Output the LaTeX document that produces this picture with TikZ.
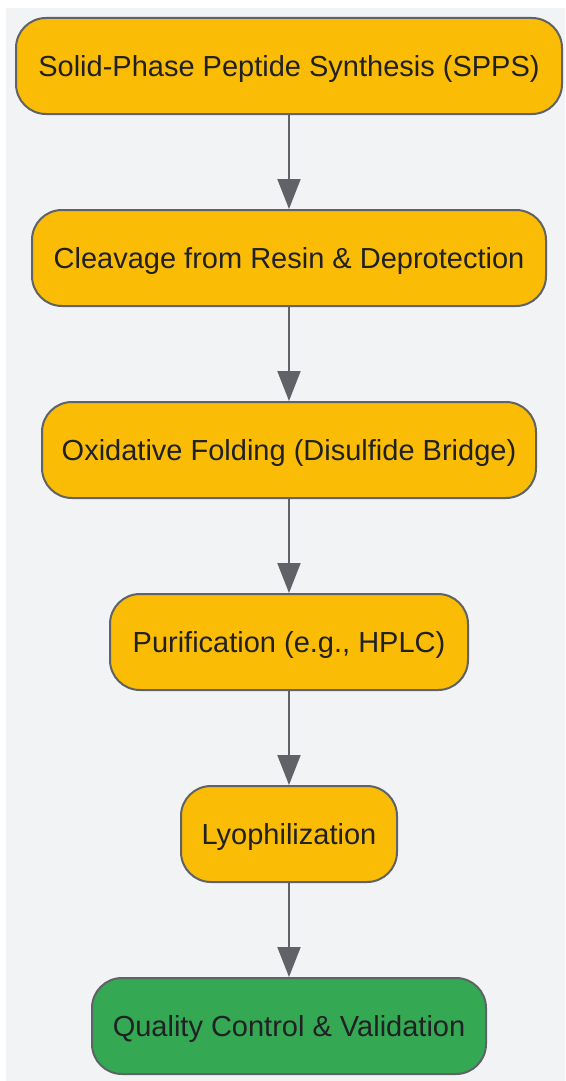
\documentclass[tikz,border=0pt]{standalone}
\usepackage{fontspec}
\setmainfont{Liberation Sans}
\usetikzlibrary{arrows.meta}
\definecolor{bg}{HTML}{F1F3F4}
\definecolor{stepyellow}{HTML}{FBBC05}
\definecolor{stepgreen}{HTML}{34A853}
\definecolor{edgegray}{HTML}{5F6368}
\definecolor{txt}{HTML}{202124}
\tikzset{
  x=1pt, y=-1pt,
  stepbox/.style={draw=edgegray, line width=2pt, rounded corners=30pt, fill=stepyellow,
    minimum height=96pt, inner sep=0pt, text=txt, text height=20.8pt, text depth=0pt,
    font=\fontsize{29}{34}\selectfont},
  donebox/.style={stepbox, fill=stepgreen},
  flow/.style={draw=edgegray, line width=2pt, -{Triangle[length=30pt, width=23pt]}}
}
\begin{document}
\begin{tikzpicture}
\useasboundingbox (0,0) rectangle (565,1081);
\fill[bg] (6,8) rectangle (565,1081);
\node[stepbox, minimum width=546pt] (n1) at (289,66) {Solid-Phase Peptide Synthesis (SPPS)};
\node[stepbox, minimum width=514pt] (n2) at (289,258) {Cleavage from Resin \& Deprotection};
\node[stepbox, minimum width=494pt] (n3) at (289,450) {Oxidative Folding (Disulfide Bridge)};
\node[stepbox, minimum width=358pt] (n4) at (289,642) {Purification (e.g., HPLC)};
\node[stepbox, minimum width=216pt] (n5) at (289,834) {Lyophilization};
\node[donebox, minimum width=394pt] (n6) at (289,1026) {Quality Control \& Validation};
\draw[flow] (n1) -- (n2);
\draw[flow] (n2) -- (n3);
\draw[flow] (n3) -- (n4);
\draw[flow] (n4) -- (n5);
\draw[flow] (n5) -- (n6);
\end{tikzpicture}
\end{document}
